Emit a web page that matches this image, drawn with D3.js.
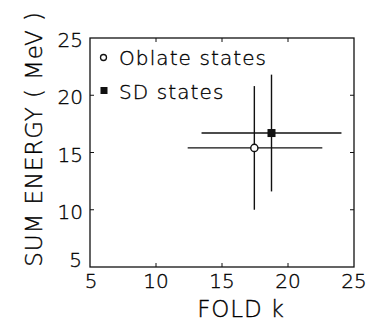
<!DOCTYPE html>
<html>
<head>
<meta charset="utf-8">
<script src="https://cdn.jsdelivr.net/npm/d3@7"></script>
<style>
  html, body { margin: 0; padding: 0; background: #fff; }
  svg text { font-family: "DejaVu Sans", "Liberation Sans", sans-serif; font-weight: 200; fill: #000; stroke: #000; stroke-width: 0.35; }
</style>
</head>
<body>
<svg id="chart" width="370" height="322"></svg>
<script>
// Measured points with error bars (fold k vs sum energy)
const seriesNames = ["Oblate states", "SD states"];
const foldK      = [17.45, 18.75];
const foldKLow   = [12.4, 13.45];
const foldKHigh  = [22.6, 24.05];
const sumEnergy  = [15.4, 16.7];
const energyLow  = [10.0, 11.6];
const energyHigh = [20.8, 21.8];
const xTicks = [5, 10, 15, 20, 25];
const yTicks = [5, 10, 15, 20, 25];

const svg = d3.select("#chart");
const m = { left: 90, right: 354, top: 38, bottom: 267 };

const x = d3.scaleLinear().domain([5, 25]).range([m.left, m.right]);
const y = d3.scaleLinear().domain([5, 25]).range([m.bottom, m.top]);

const ink = "#111";

// frame
svg.append("rect")
  .attr("x", m.left).attr("y", m.top)
  .attr("width", m.right - m.left).attr("height", m.bottom - m.top)
  .attr("fill", "none").attr("stroke", ink).attr("stroke-width", 1.3);

// inward ticks on all four sides
const tickLen = 4;
const inner = xTicks.slice(1, -1);
const innerY = yTicks.slice(1, -1);
const g = svg.append("g").attr("stroke", ink).attr("stroke-width", 1);
inner.forEach(v => {
  g.append("line").attr("x1", x(v)).attr("x2", x(v)).attr("y1", m.bottom).attr("y2", m.bottom - tickLen);
  g.append("line").attr("x1", x(v)).attr("x2", x(v)).attr("y1", m.top).attr("y2", m.top + tickLen);
});
innerY.forEach(v => {
  g.append("line").attr("y1", y(v)).attr("y2", y(v)).attr("x1", m.left).attr("x2", m.left + tickLen);
  g.append("line").attr("y1", y(v)).attr("y2", y(v)).attr("x1", m.right).attr("x2", m.right - tickLen);
});

// tick labels
const fs = 20;
svg.append("g").selectAll("text").data(xTicks).join("text")
  .attr("x", d => x(d) + (d === 5 ? 1 : 0))
  .attr("y", 288)
  .attr("text-anchor", "middle")
  .attr("font-size", fs)
  .text(d => d);

svg.append("g").selectAll("text").data(yTicks).join("text")
  .attr("x", d => d === 5 ? 82 : 83)
  .attr("y", d => d === 5 ? y(d) : y(d) + 9)
  .attr("text-anchor", "end")
  .attr("font-size", fs)
  .text(d => d);

// axis titles
svg.append("text")
  .attr("x", 241).attr("y", 317)
  .attr("text-anchor", "middle")
  .attr("font-size", 23)
  .attr("letter-spacing", 0.8)
  .text("FOLD k");

svg.append("text")
  .attr("transform", "translate(42,139) rotate(-90)")
  .attr("text-anchor", "middle")
  .attr("font-size", 23)
  .attr("letter-spacing", 0.9)
  .text("SUM ENERGY ( MeV )");

// error bars
const bars = svg.append("g").attr("stroke", ink).attr("stroke-width", 1.4);
foldK.forEach((k, i) => {
  bars.append("line")
    .attr("x1", x(foldKLow[i])).attr("x2", x(foldKHigh[i]))
    .attr("y1", y(sumEnergy[i])).attr("y2", y(sumEnergy[i]));
  bars.append("line")
    .attr("x1", x(k)).attr("x2", x(k))
    .attr("y1", y(energyLow[i])).attr("y2", y(energyHigh[i]));
});

// markers
svg.append("circle")
  .attr("cx", x(foldK[0])).attr("cy", y(sumEnergy[0])).attr("r", 3.6)
  .attr("fill", "#fff").attr("stroke", ink).attr("stroke-width", 1.4);
svg.append("rect")
  .attr("x", x(foldK[1]) - 4).attr("y", y(sumEnergy[1]) - 4)
  .attr("width", 8).attr("height", 8)
  .attr("fill", ink);

// legend
svg.append("circle")
  .attr("cx", 103.5).attr("cy", 57.5).attr("r", 3)
  .attr("fill", "#fff").attr("stroke", ink).attr("stroke-width", 1.3);
svg.append("text").attr("x", 119).attr("y", 64.5).attr("font-size", fs)
  .attr("letter-spacing", 1.1).text(seriesNames[0]);
svg.append("rect")
  .attr("x", 100.5).attr("y", 87).attr("width", 7).attr("height", 7).attr("fill", ink);
svg.append("text").attr("x", 119).attr("y", 99).attr("font-size", fs)
  .attr("letter-spacing", 1.1).text(seriesNames[1]);
</script>
</body>
</html>
